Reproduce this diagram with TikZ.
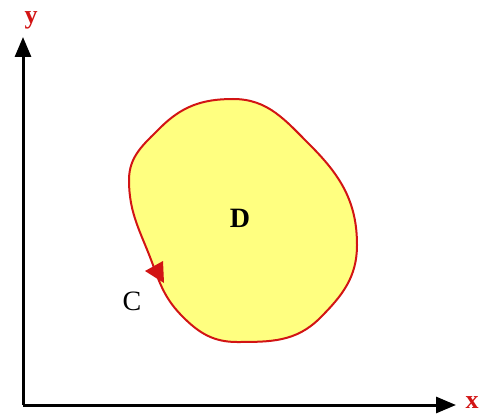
\documentclass[tikz,border=0pt]{standalone}
\usepackage{fontspec}
\setmainfont{Liberation Serif}
\usetikzlibrary{arrows.meta}
\definecolor{regionfill}{RGB}{255,255,128}
\definecolor{curvered}{RGB}{210,20,20}
\tikzset{
    axis/.style={line width=3pt, -{Triangle[length=20pt,width=16pt]}},
    axislabel/.style={text=curvered, font=\fontsize{26}{28}\selectfont\bfseries},
    letter/.style={font=\fontsize{28}{30}\selectfont}
}

\begin{document}
\begin{tikzpicture}[x=1pt, y=-1pt]
    \useasboundingbox (0, 0) rectangle (482, 417);
    \coordinate (origin) at (23, 405);
    \coordinate (ytip) at (23, 37);
    \coordinate (xtip) at (456, 405);
    \draw[axis] (origin) -- (ytip);
    \draw[axis] (origin) -- (xtip);
    \node[axislabel] (ylab) at (31, 20) {y};
    \node[axislabel] (xlab) at (472, 403) {x};
    \draw[curvered, line width=2pt, fill=regionfill]
        (129, 180) to[out=90, in=225] (160, 128)
        to[out=45, in=180] (233, 99)
        to[out=0, in=135] (310, 145)
        to[out=315, in=90] (357, 245)
        to[out=270, in=45] (320, 318)
        to[out=225, in=0] (237, 342)
        to[out=180, in=315] (183, 317)
        to[out=135, in=290] (153, 265)
        to[out=110, in=270] cycle;
    \fill[curvered] (145, 271) -- (163, 261) -- (164, 283) -- cycle;
    \node[letter, font=\fontsize{28}{30}\selectfont\bfseries] (dlab) at (240, 218) {D};
    \node[letter] (clab) at (132, 301) {C};
\end{tikzpicture}
\end{document}
